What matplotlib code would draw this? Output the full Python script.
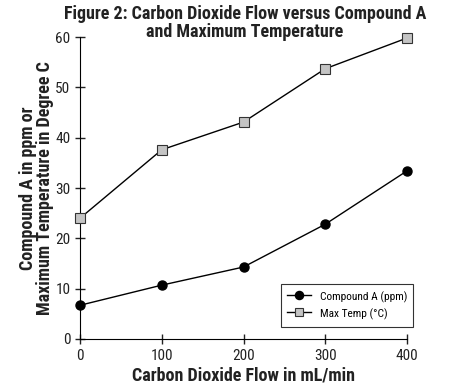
import matplotlib.pyplot as plt
from matplotlib import font_manager

# CO2 flow (mL/min) vs compound A and max temperature
flow = [0, 100, 200, 300, 400]
compound_a = [6.7, 10.7, 14.3, 22.8, 33.4]
max_temp = [24.0, 37.6, 43.1, 53.7, 59.8]

names = {f.name for f in font_manager.fontManager.ttflist}
fam = [n for n in ['Roboto Condensed', 'Archivo Narrow', 'Fira Sans Condensed'] if n in names] + ['DejaVu Sans']
plt.rcParams['font.family'] = fam

fig = plt.figure(figsize=(4.69, 3.88), dpi=100)
ax = fig.add_axes([0.1706, 0.1263, 0.6972, 0.7783])

ax.plot(flow, compound_a, color='black', lw=1, marker='o', ms=6.5,
        mfc='black', mec='black', label='Compound A (ppm)', clip_on=False, zorder=3)
ax.plot(flow, max_temp, color='black', lw=1, marker='s', ms=6.5,
        mfc='#c4c4c4', mec='#333333', mew=0.8, label='Max Temp (\u00b0C)', clip_on=False, zorder=3)

ax.set_xlim(0, 400)
ax.set_ylim(0, 60)
ax.set_xticks([0, 100, 200, 300, 400])
ax.set_yticks([0, 10, 20, 30, 40, 50, 60])
ax.spines['top'].set_visible(False)
ax.spines['right'].set_visible(False)
ax.tick_params(direction='inout', length=7, width=1, labelsize=11, colors='#222222')

ax.set_xlabel('Carbon Dioxide Flow in mL/min', fontsize=13, fontweight='bold', color='#222222', labelpad=3)
ax.set_ylabel('Compound A in ppm or\nMaximum Temperature in Degree C', fontsize=13,
              fontweight='bold', color='#222222', labelpad=1, linespacing=0.9)
fig.text(0.522, 0.988, 'Figure 2: Carbon Dioxide Flow versus Compound A\nand Maximum Temperature',
         ha='center', va='top', fontsize=13, fontweight='bold', color='#222222', linespacing=1.02)

leg = ax.legend(loc='lower right', bbox_to_anchor=(1.018, 0.04), borderaxespad=0, fontsize=8.2,
                frameon=True, fancybox=False, edgecolor='black', handlelength=2.1,
                handletextpad=0.8, borderpad=0.5, handleheight=1.7, labelspacing=0.1,
                markerscale=0.9)
leg.get_frame().set_linewidth(0.8)

fig.savefig('out.png', dpi=100)
